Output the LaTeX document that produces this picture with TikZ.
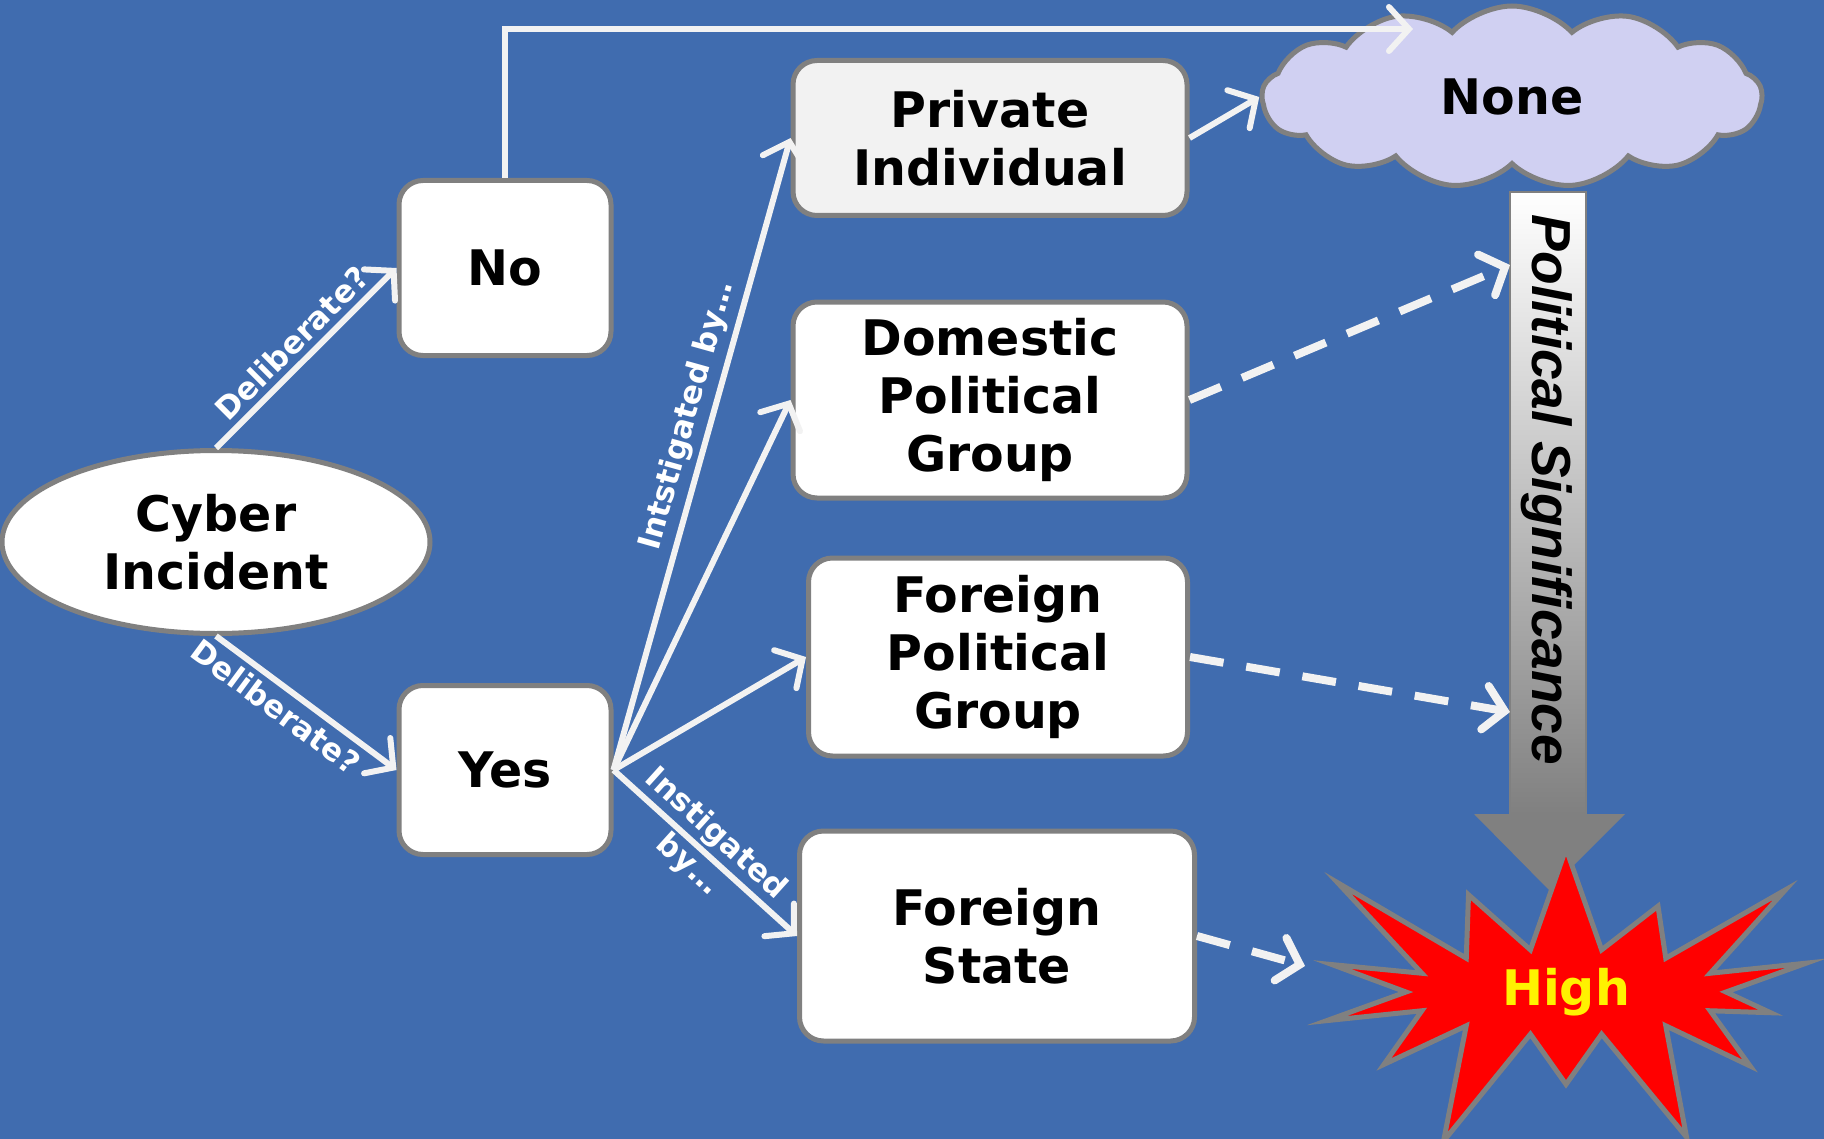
\documentclass[tikz,border=0pt]{standalone}
\usepackage{fontspec}
\setmainfont{DejaVu Sans}
\setsansfont{Liberation Sans}
\usetikzlibrary{positioning, arrows.meta, shapes.geometric, shapes.symbols}
\definecolor{bgblue}{RGB}{64,108,175}
\definecolor{arrwhite}{RGB}{242,242,242}
\definecolor{rimgray}{RGB}{128,128,128}
\definecolor{cloudlilac}{RGB}{208,208,242}

\begin{document}
\begin{tikzpicture}[x=0.5pt, y=-0.5pt,
	box/.style={rectangle, rounded corners=12pt, draw=rimgray, line width=2.5pt, fill=white, align=center, inner sep=0pt, font=\fontsize{24.5}{29}\selectfont\bfseries},
	arr/.style={draw=arrwhite, line width=3pt, -{Straight Barb[length=10pt, width=22pt, line cap=round]}},
	darr/.style={arr, line width=4pt, dash pattern=on 17pt off 11.5pt},
	lbl/.style={text=white, sloped, inner sep=3pt, font=\fontsize{15.5}{21}\selectfont\bfseries}]
		\fill[bgblue] (0,0) rectangle (1824,1139);
		\useasboundingbox (0,0) rectangle (1824,1139);
		% the big arrow on the right
		\shade[top color=white, bottom color=rimgray, draw=rimgray, line width=1pt] (1510,192) rectangle (1586,814);
		\fill[rimgray] (1474,814) -- (1625,814) -- (1549,890) -- cycle;
		\node[rotate=-90, font=\sffamily\bfseries\itshape\fontsize{27.5}{30}\selectfont] (psig) at (1547,490) {Political Significance};
		\coordinate (psa) at (1510,265); \coordinate (psb) at (1510,712);
		% nodes
		\node[box, ellipse, minimum width=214pt, minimum height=91.5pt] (ci) at (216,542) {Cyber\\Incident};
		\node[box, minimum width=106pt, minimum height=87.5pt] (no) at (505,268) {No};
		\node[box, minimum width=106pt, minimum height=84.5pt] (yes) at (505,770) {Yes};
		\node[box, fill=arrwhite, minimum width=197pt, minimum height=77.5pt] (pi) at (990,138) {Private\\Individual};
		\node[box, minimum width=197pt, minimum height=98pt] (dpg) at (990,400) {Domestic\\Political\\Group};
		\node[box, minimum width=189.5pt, minimum height=99pt] (fpg) at (998,657) {Foreign\\Political\\Group};
		\node[box, minimum width=197.5pt, minimum height=105pt] (fs) at (997,936) {Foreign\\State};
		\node[cloud, cloud puffs=13, cloud puff arc=95, aspect=2.8, draw=rimgray, line width=2.5pt, fill=cloudlilac, minimum width=250pt, minimum height=91pt, font=\fontsize{24.5}{29}\selectfont\bfseries] (none) at (1512,97) {None};
		\node[starburst, starburst points=14, starburst point height=70pt, draw=rimgray, line width=2.5pt, fill=red, text=yellow, minimum width=300pt, minimum height=165pt, font=\fontsize{24.5}{29}\selectfont\bfseries] (high) at (1566,992) {High};
		\coordinate (ntop) at (1413,29);
		\coordinate (hin) at (1305,966);
		% connectors
		\draw[arr] (ci.north) -- node[lbl, above] {Deliberate?} (no.west);
		\draw[arr] (ci.south) -- node[lbl, below, pos=0.4] {Deliberate?} (yes.west);
		\draw[arr] (no.north) |- (ntop);
		\draw[arr] (yes.east) -- node[lbl, above, pos=0.55] {Intstigated by…} (pi.west);
		\draw[arr] (yes.east) -- (dpg.west);
		\draw[arr] (yes.east) -- (fpg.west);
		\draw[arr] (yes.east) -- node[lbl, align=center, pos=0.48] {Instigated\\by…} (fs.west);
		\draw[arr] (pi.east) -- (none.west);
		\draw[darr] (dpg.east) -- (psa);
		\draw[darr] (fpg.east) -- (psb);
		\draw[darr] (fs.east) -- (hin);
	\end{tikzpicture}
\end{document}
